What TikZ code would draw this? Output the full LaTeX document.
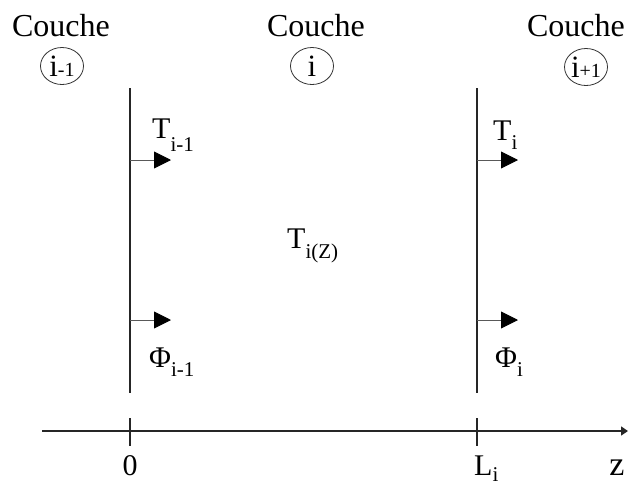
\documentclass[tikz,border=0pt]{standalone}
\usepackage{fontspec}
\setmainfont{Liberation Serif}
\usetikzlibrary{arrows.meta,shapes.geometric}
\newcommand{\sbs}[2][9pt]{\raisebox{-#1}{\fontsize{21}{24}\selectfont #2}}
\begin{document}
\begin{tikzpicture}[x=1pt,y=-1pt,
  wall/.style={draw=black!85,line width=1.3pt},
  flux/.style={draw=black!65,line width=0.9pt,-{Triangle[length=17pt,width=17pt,fill=black,color=black]}},
  big/.style={font=\fontsize{32}{36}\selectfont,inner sep=0pt,anchor=base},
  lbl/.style={font=\fontsize{30}{34}\selectfont,inner sep=0pt,anchor=base west},
  circ/.style={draw=black!80,ellipse,line width=0.8pt,minimum width=43pt,minimum height=37pt,inner sep=0pt,font=\fontsize{31}{34}\selectfont}]
\useasboundingbox (0,0) rectangle (628,485);
% walls
\coordinate (w1t) at (130,88);
\coordinate (w1b) at (130,393);
\coordinate (w2t) at (477,88);
\coordinate (w2b) at (477,393);
\draw[wall] (w1t) -- (w1b);
\draw[wall] (w2t) -- (w2b);
% axis
\coordinate (ax0) at (42,431);
\coordinate (ax1) at (628,431);
\draw[wall,line width=1.5pt,-{Triangle[length=7pt,width=9pt]}] (ax0) -- (ax1);
\coordinate (t1a) at (130,418);
\coordinate (t1b) at (130,446);
\coordinate (t2a) at (477,418);
\coordinate (t2b) at (477,446);
\draw[wall] (t1a) -- (t1b);
\draw[wall] (t2a) -- (t2b);
% flux arrows
\coordinate (a1s) at (130,160); \coordinate (a1e) at (171,160);
\coordinate (a2s) at (130,320); \coordinate (a2e) at (171,320);
\coordinate (a3s) at (477,160); \coordinate (a3e) at (518,160);
\coordinate (a4s) at (477,320); \coordinate (a4e) at (518,320);
\draw[flux] (a1s) -- (a1e);
\draw[flux] (a2s) -- (a2e);
\draw[flux] (a3s) -- (a3e);
\draw[flux] (a4s) -- (a4e);
% titles
\node[big] (c1) at (61,36) {Couche};
\node[big] (c2) at (316,36) {Couche};
\node[big] (c3) at (576,36) {Couche};
\node[circ] (n1) at (62,66) {i{\fontsize{20}{22}\selectfont-1}};
\node[circ] (n2) at (312,66) {i};
\node[circ] (n3) at (586,67) {i{\fontsize{20}{22}\selectfont+1}};
% labels
\node[lbl] (l1) at (152,138) {T\sbs[13pt]{i-1}};
\node[lbl] (l2) at (493,140) {T\sbs{i}};
\node[lbl] (l3) at (287,248) {T\sbs[10pt]{i(Z)}};
\node[lbl] (l4) at (149,367) {Φ\sbs{i-1}};
\node[lbl] (l5) at (495,367) {Φ\sbs{i}};
\node[lbl,anchor=base] (z0) at (130,475) {0};
\node[lbl] (zL) at (474,475) {L\sbs[6pt]{i}};
\node[lbl,anchor=base,font=\fontsize{34}{36}\selectfont] (zz) at (617,475) {z};
\end{tikzpicture}
\end{document}
